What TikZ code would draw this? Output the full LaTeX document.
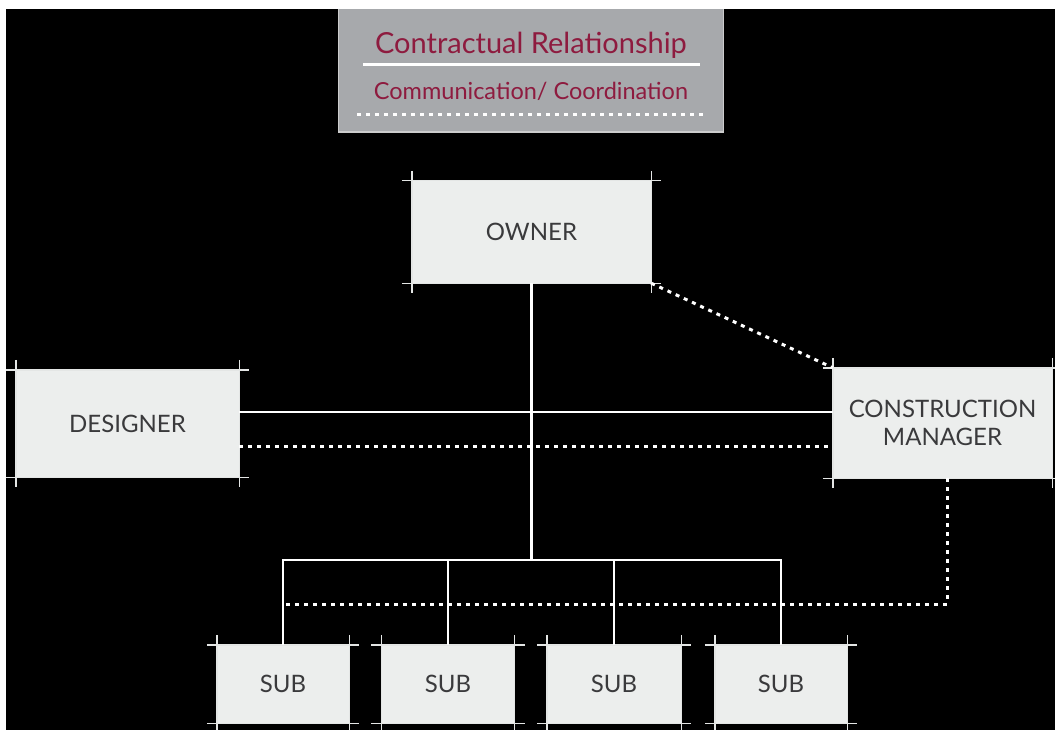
\documentclass[tikz,border=0pt]{standalone}
\usepackage{fontspec}
\setmainfont{Lato}
\begin{document}
\begin{tikzpicture}[x=1pt,y=-1pt,
  boxfill/.style={draw=none,fill=boxgray,text=boxtext,inner sep=0pt,align=center,font=\fontsize{24}{28}\selectfont},
  edge/.style={draw=edgegray,line width=1.4pt},
  solidlink/.style={draw=white,line width=2.4pt},
  dotlink/.style={draw=white,line width=3pt,dash pattern=on 4pt off 5pt},
  legtext/.style={text=legred,inner sep=0pt}]
\definecolor{boxgray}{HTML}{ECEEED}
\definecolor{boxtext}{HTML}{3A3A3C}
\definecolor{edgegray}{HTML}{E4E6E5}
\definecolor{leggray}{HTML}{A7A9AC}
\definecolor{legred}{HTML}{8E1B3F}
\newcommand\cropbox[1]{%
  \draw[edge] ([xshift=-10pt]#1.north west) -- ([xshift=10pt]#1.north east);
  \draw[edge] ([xshift=-10pt]#1.south west) -- ([xshift=10pt]#1.south east);
  \draw[edge] ([yshift=10pt]#1.north west) -- ([yshift=-10pt]#1.south west);
  \draw[edge] ([yshift=10pt]#1.north east) -- ([yshift=-10pt]#1.south east);}
\useasboundingbox (0,0) rectangle (1055,730);
\fill[white] (0,0) rectangle (1055,730);
\fill[black] (6,9) rectangle (1055,730);
% legend
\fill[leggray] (338,9) rectangle (724,132);
\draw[line width=1.2pt,draw=gray!40] (338.6,9) -- (338.6,132) -- (723.4,132) -- (723.4,9);
\node[legtext,font=\fontsize{29}{32}\selectfont] (legc) at (531,45) {Contractual Relationship};
\node[legtext,font=\fontsize{23.5}{26}\selectfont] (legm) at (531,91) {Communication/ Coordination};
\coordinate (lsa) at (363,65); \coordinate (lsb) at (700,65);
\coordinate (lda) at (357,115); \coordinate (ldb) at (707,115);
\draw[solidlink,line width=3pt] (lsa) -- (lsb);
\draw[dotlink,line width=3pt] (lda) -- (ldb);
% boxes
\node[boxfill,minimum width=239pt,minimum height=102pt] (owner) at (531.5,232) {OWNER};
\node[boxfill,minimum width=223pt,minimum height=107pt] (designer) at (127.5,423.5) {DESIGNER};
\node[boxfill,minimum width=219pt,minimum height=110pt] (cm) at (942.5,423) {CONSTRUCTION\\MANAGER};
\node[boxfill,minimum width=132pt,minimum height=78pt] (sub1) at (283,684) {SUB};
\node[boxfill,minimum width=133pt,minimum height=78pt] (sub2) at (448,684) {SUB};
\node[boxfill,minimum width=134pt,minimum height=78pt] (sub3) at (614,684) {SUB};
\node[boxfill,minimum width=132pt,minimum height=78pt] (sub4) at (781,684) {SUB};
\foreach \b in {owner,designer,cm,sub1,sub2,sub3,sub4} {\cropbox{\b}}
% connectors
\coordinate (bus) at (532,560);
\coordinate (dotrow) at (283,604);
\draw[solidlink] (owner.south) -- (owner.south |- bus);
\draw[solidlink] (sub1.north) -- (sub1.north |- bus) -- (sub4.north |- bus) -- (sub4.north);
\draw[solidlink] (sub2.north) -- (sub2.north |- bus);
\draw[solidlink] (sub3.north) -- (sub3.north |- bus);
\draw[solidlink] ([yshift=11.5pt]designer.east) -- ([yshift=11.5pt]designer.east -| cm.west);
\draw[dotlink] ([yshift=-22.5pt]designer.east) -- ([yshift=-22.5pt]designer.east -| cm.west);
\draw[dotlink] (owner.south east) -- (cm.north west);
\draw[dotlink] ([xshift=4.5pt]cm.south) |- (dotrow);
\end{tikzpicture}
\end{document}
